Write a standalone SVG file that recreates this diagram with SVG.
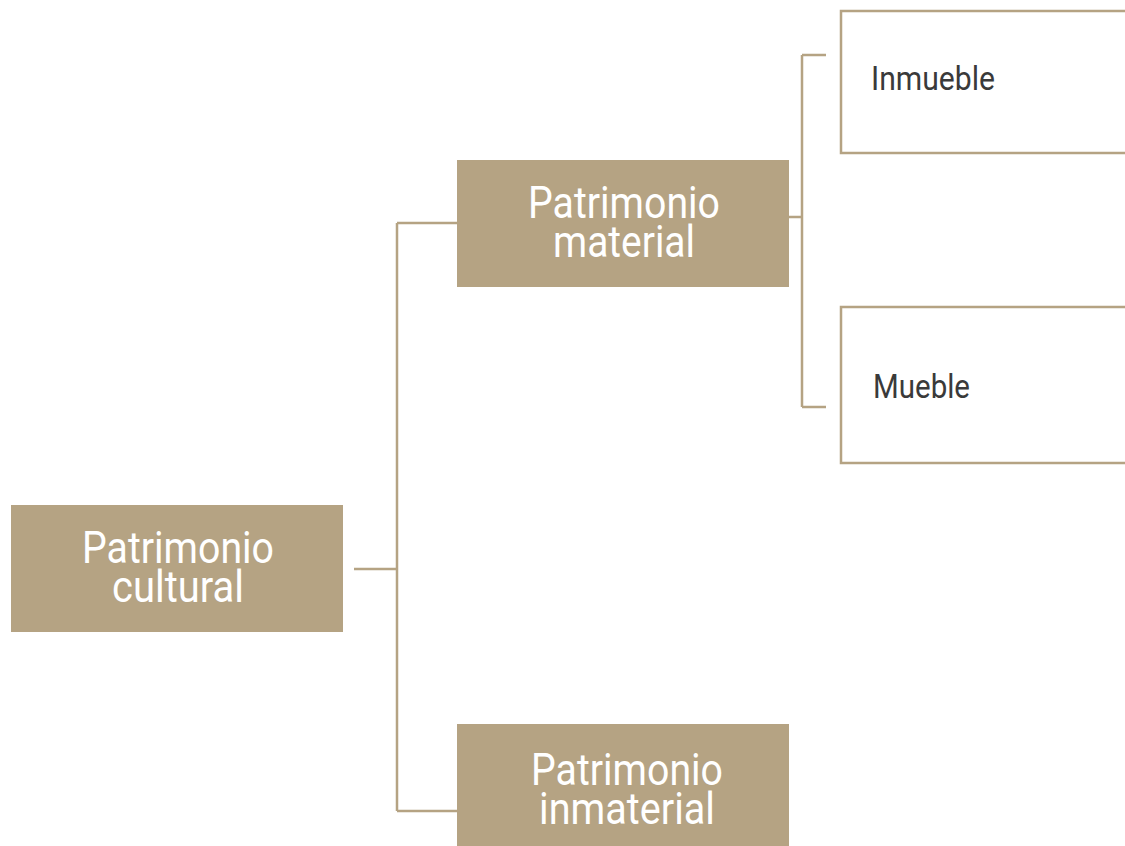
<svg xmlns="http://www.w3.org/2000/svg" width="1125" height="846" viewBox="0 0 1125 846">
<style>
.box{fill:#b5a383}
.leaf{fill:#fff;stroke:#b5a383;stroke-width:2.5}
.lbl{font-family:Roboto,"Liberation Sans",sans-serif;font-size:45px;fill:#fff;text-anchor:middle}
.sub{font-family:Roboto,"Liberation Sans",sans-serif;font-size:34px;fill:#3a3a3a}
.con{fill:none;stroke:#b5a383;stroke-width:2.5}
</style>
<rect width="1125" height="846" fill="#fff"/>
<g id="connectors">
<path class="con" d="M354 569H397M397 223V811M397 223H457M397 811H457"/>
<path class="con" d="M789 217H802M802 55V407M802 55H826M802 407H826"/>
</g>
<g id="cultural">
<rect class="box" x="11" y="505" width="332" height="127"/>
<text class="lbl" x="178" y="563" textLength="192" lengthAdjust="spacingAndGlyphs">Patrimonio</text>
<text class="lbl" x="178" y="602" textLength="132" lengthAdjust="spacingAndGlyphs">cultural</text>
</g>
<g id="material">
<rect class="box" x="457" y="160" width="332" height="127"/>
<text class="lbl" x="624" y="218" textLength="192" lengthAdjust="spacingAndGlyphs">Patrimonio</text>
<text class="lbl" x="624" y="257" textLength="142" lengthAdjust="spacingAndGlyphs">material</text>
</g>
<g id="inmaterial">
<rect class="box" x="457" y="724" width="332" height="127"/>
<text class="lbl" x="627" y="785" textLength="192" lengthAdjust="spacingAndGlyphs">Patrimonio</text>
<text class="lbl" x="627" y="824" textLength="176" lengthAdjust="spacingAndGlyphs">inmaterial</text>
</g>
<g id="inmueble">
<rect class="leaf" x="841" y="11" width="300" height="142"/>
<text class="sub" x="871" y="90" textLength="124" lengthAdjust="spacingAndGlyphs">Inmueble</text>
</g>
<g id="mueble">
<rect class="leaf" x="841" y="307" width="300" height="156"/>
<text class="sub" x="873" y="398" textLength="97" lengthAdjust="spacingAndGlyphs">Mueble</text>
</g>
</svg>
